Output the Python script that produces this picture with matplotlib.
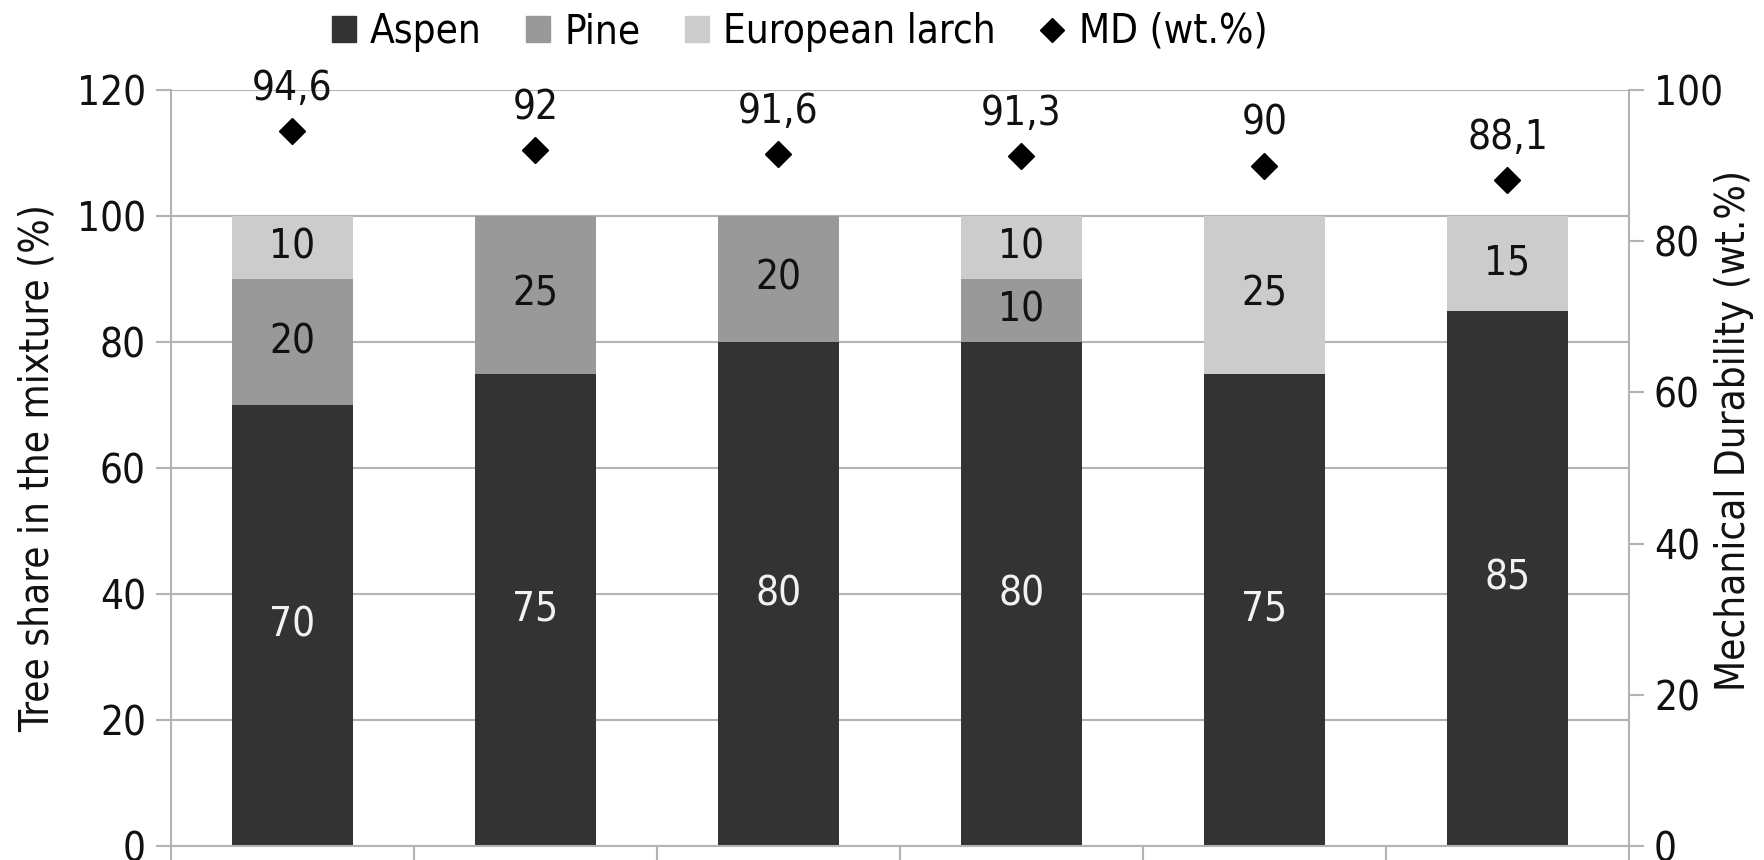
import matplotlib
matplotlib.use("Agg")
import matplotlib.pyplot as plt
from matplotlib.lines import Line2D
from matplotlib.patches import Patch
import numpy as np

plt.rcParams['font.family'] = ['DejaVu Sans']
plt.rcParams['font.stretch'] = 'condensed'

mixtures = ["M1", "M2", "M3", "M4", "M5", "M6"]
aspen = [70, 75, 80, 80, 75, 85]
pine = [20, 25, 20, 10, 0, 0]
larch = [10, 0, 0, 10, 25, 15]
md = [94.6, 92, 91.6, 91.3, 90, 88.1]
md_labels = ["94,6", "92", "91,6", "91,3", "90", "88,1"]
left_ticks = [0, 20, 40, 60, 80, 100, 120]
right_ticks = [0, 20, 40, 60, 80, 100]

c_aspen, c_pine, c_larch = "#333333", "#999999", "#cccccc"
grid_c = "#b3b3b3"
fs = 29

fig = plt.figure(figsize=(17.65, 8.6), dpi=100)
ax = fig.add_axes([171/1765, 1-846/860, (1629-171)/1765, (846-90)/860])
x = np.arange(len(mixtures))
w = 0.5

ax.set_axisbelow(True)
ax.yaxis.grid(True, color=grid_c, linewidth=1.5)
b1 = ax.bar(x, aspen, w, color=c_aspen, zorder=2)
b2 = ax.bar(x, pine, w, bottom=aspen, color=c_pine, zorder=2)
bottom3 = [a + p for a, p in zip(aspen, pine)]
b3 = ax.bar(x, larch, w, bottom=bottom3, color=c_larch, zorder=2)

for i in range(len(x)):
    ax.text(x[i], aspen[i] / 2, str(aspen[i]), ha="center", va="center",
            color="#f2f2f2", fontsize=fs, zorder=3)
    if pine[i] > 0:
        ax.text(x[i], aspen[i] + pine[i] / 2, str(pine[i]), ha="center", va="center",
                color="#111111", fontsize=fs, zorder=3)
    if larch[i] > 0:
        ax.text(x[i], bottom3[i] + larch[i] / 2, str(larch[i]), ha="center", va="center",
                color="#111111", fontsize=fs, zorder=3)

ax.set_xlim(-0.5, len(x) - 0.5)
ax.set_ylim(0, 120)
ax.set_yticks(left_ticks)
ax.set_xticks(np.arange(-0.5, len(x), 1.0))
ax.set_xticklabels([])
ax.tick_params(axis="x", length=11, width=1.5, color=grid_c, direction="out")
ax.tick_params(axis="y", length=11, width=1.5, color=grid_c, direction="out",
               labelsize=fs, pad=7, labelcolor="#111111")
for s in ["left", "right", "bottom"]:
    ax.spines[s].set_color(grid_c)
    ax.spines[s].set_linewidth(1.5)
ax.spines["top"].set_visible(False)
ax.set_ylabel("Tree share in the mixture (%)", fontsize=fs, labelpad=14, color="#111111")

ax2 = ax.twinx()
ax2.set_ylim(0, 100)
ax2.set_yticks(right_ticks)
ax2.plot(x, md, linestyle="none", marker="D", markersize=13, color="black", zorder=4)
for i in range(len(x)):
    ax2.annotate(md_labels[i], (x[i], md[i]), xytext=(0, 30), textcoords="offset points",
                 ha="center", va="center", fontsize=fs, color="#111111")
ax2.tick_params(axis="y", length=11, width=1.5, color=grid_c, direction="out",
                labelsize=fs, pad=7, labelcolor="#111111")
for s in ["left", "right", "bottom", "top"]:
    ax2.spines[s].set_visible(False)
ax2.set_ylabel("Mechanical Durability (wt.%)", fontsize=fs, color="#111111", va="center")
ax2.yaxis.set_label_coords(1.072, 0.55)

handles = [Patch(color=c_aspen), Patch(color=c_pine), Patch(color=c_larch),
           Line2D([], [], linestyle="none", marker="D", markersize=12, color="black")]
labels = ["Aspen", "Pine", "European larch", "MD (wt.%)"]
fig.legend(handles, labels, loc="center", bbox_to_anchor=(0.453, 1 - 32/860), ncol=4,
           frameon=False, fontsize=fs, handlelength=0.6, handleheight=0.6,
           handletextpad=0.35, columnspacing=1.1)

fig.savefig("out.png", dpi=100)
